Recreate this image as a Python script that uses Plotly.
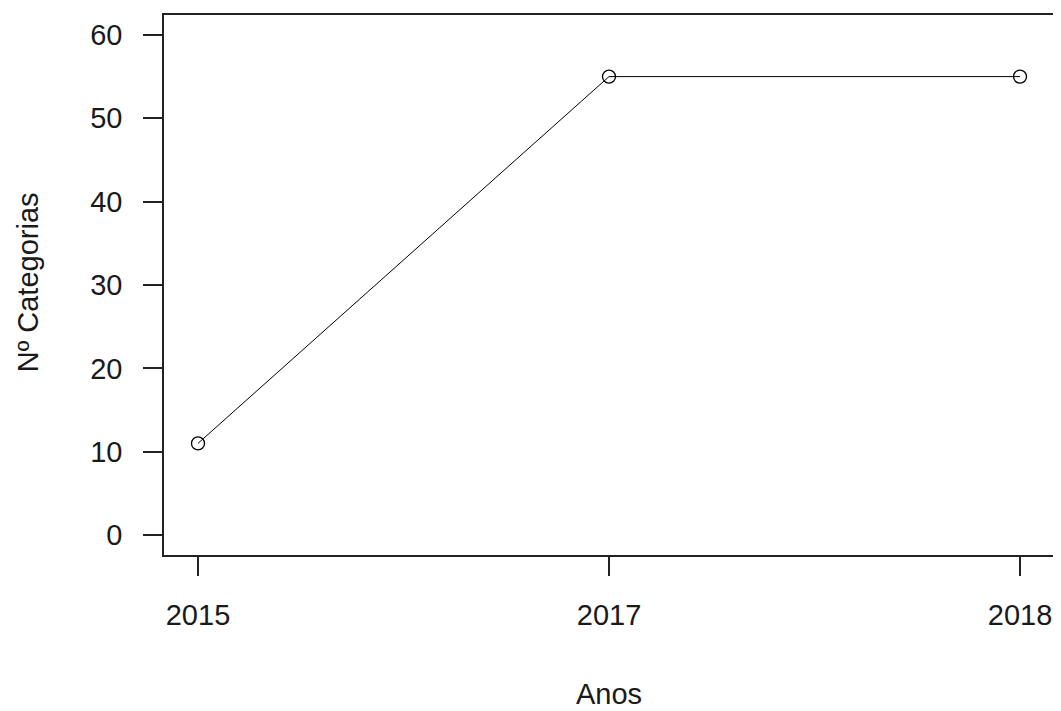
import plotly.graph_objects as go

anos = ["2015", "2017", "2018"]
categorias = [11, 55, 55]
y_ticks = [0, 10, 20, 30, 40, 50, 60]
x_title = "Anos"
y_title = "Nº Categorias"

xpos = list(range(len(anos)))
font = dict(family="Liberation Sans, Arial, sans-serif", size=29, color="#1a1a1a")

fig = go.Figure(go.Scatter(
    x=xpos, y=categorias, mode="lines+markers",
    line=dict(color="black", width=1),
    marker=dict(symbol="circle-open", size=13, color="black", line=dict(width=1.3)),
    showlegend=False,
))

fig.update_layout(
    width=1053, height=703,
    margin=dict(l=156, r=7, t=5, b=156),
    paper_bgcolor="white", plot_bgcolor="white",
    font=font,
    xaxis=dict(
        range=[-0.0827, 2.0827], tickvals=xpos, ticktext=anos,
        showgrid=False, zeroline=False, showline=True, mirror=True,
        linecolor="#222", linewidth=1.5, ticks="outside", ticklen=19,
        tickcolor="#222", tickwidth=1.5, tickfont=font, ticklabelstandoff=14,
    ),
    yaxis=dict(
        range=[-2.39, 62.39], tickvals=y_ticks,
        showgrid=False, zeroline=False, showline=True, mirror=True,
        linecolor="#222", linewidth=1.5, ticks="outside", ticklen=19,
        tickcolor="#222", tickwidth=1.5, tickfont=font, ticklabelstandoff=15,
    ),
    annotations=[
        dict(text=x_title, xref="paper", yref="paper", x=0.5, y=-0.2565,
             xanchor="center", yanchor="middle", showarrow=False, font=font),
        dict(text=y_title, xref="paper", yref="paper", x=-0.1528, y=0.505,
             xanchor="center", yanchor="middle", textangle=-90, showarrow=False, font=font),
    ],
)

fig.write_html("out.html")
